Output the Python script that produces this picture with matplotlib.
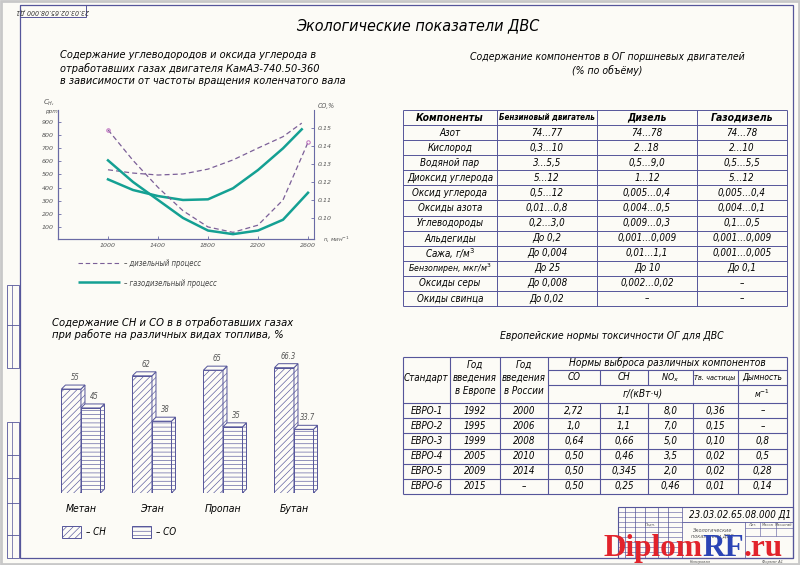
import numpy as np
import matplotlib.pyplot as plt
from matplotlib.patches import Rectangle, Polygon

# engine speed and emissions of KamAZ-740.50-360
rpm_co = [1000, 1200, 1400, 1600, 1800, 2000, 2200, 2400, 2600]
co_diesel = [0.149, 0.132, 0.117, 0.104, 0.095, 0.092, 0.096, 0.110, 0.142]
co_gas = [0.132, 0.120, 0.110, 0.100, 0.093, 0.091, 0.093, 0.099, 0.114]
rpm_ch = [1000, 1200, 1400, 1600, 1800, 2000, 2200, 2400, 2550]
ch_diesel = [535, 510, 495, 503, 540, 610, 700, 787, 890]
ch_gas = [462, 381, 335, 305, 310, 394, 533, 698, 843]

# CH / CO share by fuel, %
fuels = ['Метан', 'Этан', 'Пропан', 'Бутан']
ch_share = [55, 62, 65, 66.3]
co_share = [45, 38, 35, 33.7]

# exhaust composition table
comp_head = ['Компоненты', 'Бензиновый двигатель', 'Дизель', 'Газодизель']
comp_names = ['Азот', 'Кислород', 'Водяной пар', 'Диоксид углерода',
              'Оксид углерода', 'Оксиды азота', 'Углеводороды', 'Альдегиды',
              'Сажа, г/м$^3$', 'Бензопирен, мкг/м$^3$', 'Оксиды серы',
              'Окиды свинца']
comp_petrol = ['74…77', '0,3…10', '3…5,5', '5…12', '0,5…12', '0,01…0,8',
               '0,2…3,0', 'До 0,2', 'До 0,004', 'До 25', 'До 0,008', 'До 0,02']
comp_diesel = ['74…78', '2…18', '0,5…9,0', '1…12', '0,005…0,4', '0,004…0,5',
               '0,009…0,3', '0,001…0,009', '0,01…1,1', 'До 10', '0,002…0,02', '–']
comp_gas = ['74…78', '2…10', '0,5…5,5', '5…12', '0,005…0,4', '0,004…0,1',
            '0,1…0,5', '0,001…0,009', '0,001…0,005', 'До 0,1', '–', '–']

# euro norms table
euro_std = ['ЕВРО-1', 'ЕВРО-2', 'ЕВРО-3', 'ЕВРО-4', 'ЕВРО-5', 'ЕВРО-6']
euro_eu = ['1992', '1995', '1999', '2005', '2009', '2015']
euro_ru = ['2000', '2006', '2008', '2010', '2014', '–']
euro_co = ['2,72', '1,0', '0,64', '0,50', '0,50', '0,50']
euro_ch = ['1,1', '1,1', '0,66', '0,46', '0,345', '0,25']
euro_nox = ['8,0', '7,0', '5,0', '3,5', '2,0', '0,46']
euro_pm = ['0,36', '0,15', '0,10', '0,02', '0,02', '0,01']
euro_smoke = ['–', '–', '0,8', '0,5', '0,28', '0,14']

W, H = 800, 565
LC = '#55559a'      # drawing line colour
FNT = dict(family='DejaVu Sans', style='italic', stretch='condensed')
plt.rcParams['hatch.linewidth'] = 0.45

fig = plt.figure(figsize=(8, 5.65), dpi=100, facecolor='#fcfbf6')
bg = fig.add_axes([0, 0, 1, 1])
bg.set_xlim(0, W)
bg.set_ylim(H, 0)
bg.axis('off')


def line(x0, y0, x1, y1, lw=0.8, c=LC):
    bg.plot([x0, x1], [y0, y1], color=c, lw=lw, solid_capstyle='butt')


def txt(x, y, s, size=7, ha='center', **kw):
    bg.text(x, y, s, fontsize=size, ha=ha, va='center', **FNT, **kw)


def fax(px, py, pw, ph):
    # axes rectangle given in pixel coordinates of the sheet
    return fig.add_axes([px / W, 1 - (py + ph) / H, pw / W, ph / H])


# sheet frame
bg.add_patch(Rectangle((1, 1), W - 2, H - 2, fill=False, ec='#c8c8c8', lw=2))
bg.add_patch(Rectangle((20, 5), 773, 553, fill=False, ec=LC, lw=0.9))
bg.add_patch(Rectangle((20, 5), 66, 12, fill=False, ec=LC, lw=0.7))
txt(53, 11, '23.03.02.65.08.000 Д1', size=5, rotation=180, color='#333')
for cells in ([285, 325, 368], [422, 455, 478, 503, 535, 558]):
    bg.add_patch(Rectangle((7, cells[0]), 12, cells[-1] - cells[0],
                           fill=False, ec=LC, lw=0.6))
    line(12, cells[0], 12, cells[-1], lw=0.5)
    for yy in cells[1:-1]:
        line(7, yy, 19, yy, lw=0.6)

# title
txt(418, 26, 'Экологические показатели ДВС', size=11.5)

# ---------- line chart ----------
txt(60, 55, 'Содержание углеводородов и оксида углерода в', size=7.8, ha='left')
txt(60, 68, 'отработавших газах двигателя КамАЗ-740.50-360', size=7.8, ha='left')
txt(60, 81, 'в зависимости от частоты вращения коленчатого вала', size=7.8, ha='left')

ax = fax(58, 110, 256, 129)
ax.patch.set_alpha(0)
ax2 = ax.twinx()
ax.plot(rpm_ch, ch_diesel, color='#7b5f98', lw=0.9, ls=(0, (4, 2.5)))
ax.plot(rpm_ch, ch_gas, color='#14a093', lw=1.8)
ax2.plot(rpm_co, co_diesel, color='#7b5f98', lw=0.9, ls=(0, (4, 2.5)))
ax2.plot(rpm_co, co_gas, color='#14a093', lw=1.8)
ax2.plot([rpm_co[0], rpm_co[-1]], [co_diesel[0], co_diesel[-1]], 'o',
         ms=2.5, mfc='none', mec='#c070c0', mew=0.7)
ax.set_xlim(600, 2648)
ax.set_ylim(8, 990)
ax2.set_ylim(0.0883, 0.160)
ax.set_xticks([1000, 1400, 1800, 2200, 2600])
ax.set_yticks(range(100, 1000, 100))
ax2.set_yticks([0.10, 0.11, 0.12, 0.13, 0.14, 0.15])
ax2.set_yticklabels(['0.10', '0.11', '0.12', '0.13', '0.14', '0.15'])
for a in (ax, ax2):
    a.spines['top'].set_visible(False)
    for s in a.spines.values():
        s.set_color('#6a6aa5')
        s.set_linewidth(0.8)
    a.tick_params(direction='in', length=2.5, width=0.6, color='#6a6aa5',
                  labelsize=4.5, labelcolor='#555', pad=3)
    for lab in a.get_xticklabels() + a.get_yticklabels():
        lab.set_style('italic')
ax.spines['right'].set_visible(False)
txt(49, 103, '$C_H$,', size=5, color='#555')
txt(51, 112, 'ppm', size=4.5, color='#555')
txt(326, 106, 'CO,%', size=5, color='#555')
txt(336, 240, 'n, мин$^{-1}$', size=4.5, color='#555')

line(78, 263, 120, 263, lw=0.8, c='#7b5f98')
bg.lines[-1].set_linestyle((0, (4, 2.5)))
txt(124, 264, '– дизельный процесс', size=5.5, ha='left', color='#444')
line(78, 282, 120, 282, lw=1.8, c='#14a093')
txt(124, 283, '– газодизельный процесс', size=5.5, ha='left', color='#444')

# ---------- bar chart ----------
txt(52, 322, 'Содержание СН и СО в в отработавших газах', size=8, ha='left')
txt(52, 335, 'при работе на различных видах топлива, %', size=8, ha='left')

bx = fax(40, 343, 300, 150)
bx.axis('off')
bx.set_xlim(-0.577, 3.648)
bx.set_ylim(0, 150 / 1.89)
w = 0.275
dx, dy = 4 / 71, 4 / 1.89
face = '#fdfcf7'
xs = np.arange(len(fuels))
for x0, vals, hatch in ((xs - w, ch_share, '/////'), (xs, co_share, '----')):
    for xl, v in zip(x0, vals):
        bx.bar(xl, v, w, align='edge', color=face, ec=LC, lw=0.7, hatch=hatch)
        bx.add_patch(Polygon([(xl + w, 0), (xl + w + dx, dy),
                              (xl + w + dx, v + dy), (xl + w, v)],
                             fc=face, ec=LC, lw=0.7, hatch=hatch))
        bx.add_patch(Polygon([(xl, v), (xl + w, v), (xl + w + dx, v + dy),
                              (xl + dx, v + dy)], fc=face, ec=LC, lw=0.7))
        bx.text(xl + w / 2 + dx, v + dy + 4, f'{v:g}', fontsize=5.5,
                ha='center', va='center', color='#555', **FNT)
for xc, name in zip(xs, fuels):
    bx.text(xc, -8.5, name, fontsize=7.5, ha='center', va='center', **FNT)

bg.add_patch(Rectangle((62, 526), 19, 12, fc=face, ec=LC, lw=0.7, hatch='/////'))
txt(86, 532, '– СН', size=7, ha='left')
bg.add_patch(Rectangle((132, 526), 19, 12, fc=face, ec=LC, lw=0.7, hatch='----'))
txt(156, 532, '– СО', size=7, ha='left')

# ---------- table 1 ----------
txt(607, 57, 'Содержание компонентов в ОГ поршневых двигателей', size=7.5)
txt(607, 71, '(% по объёму)', size=7.5)
cx = [403, 497, 597, 697, 787]
rh = 15.08
ty = 110
nrow = len(comp_names) + 1
for i in range(nrow + 1):
    line(cx[0], ty + i * rh, cx[-1], ty + i * rh, lw=0.7)
for xx in cx:
    line(xx, ty, xx, ty + nrow * rh, lw=0.7)
for j, h in enumerate(comp_head):
    txt((cx[j] + cx[j + 1]) / 2, ty + rh / 2, h,
        size=5.8 if j == 1 else 7.5, weight='bold')
for i, row in enumerate(zip(comp_names, comp_petrol, comp_diesel, comp_gas)):
    for j, s in enumerate(row):
        txt((cx[j] + cx[j + 1]) / 2, ty + (i + 1.5) * rh, s,
            size=6.3 if i == 9 and j == 0 else 7)

# ---------- table 2 ----------
txt(612, 336, 'Европейские нормы токсичности ОГ для ДВС', size=7.5)
ex = [403, 450, 500, 548, 600, 648, 693, 738, 787]
t0, h1, h2, h3 = 357, 370, 385, 403
erh = 15.17
bot = h3 + 6 * erh
line(ex[0], t0, ex[-1], t0)
line(ex[3], h1, ex[-1], h1)
line(ex[3], h2, ex[-1], h2)
line(ex[0], h3, ex[-1], h3)
for i in range(1, 7):
    line(ex[0], h3 + i * erh, ex[-1], h3 + i * erh)
for xx in ex[:4] + [ex[-1]]:
    line(xx, t0, xx, bot)
line(ex[7], h1, ex[7], bot)
for xx in ex[4:7]:
    line(xx, h1, xx, h2)
    line(xx, h3, xx, bot)
txt(426, 378, 'Стандарт', size=7)
for xc, place in ((475, 'в Европе'), (524, 'в России')):
    txt(xc, 365, 'Год', size=7)
    txt(xc, 378, 'введения', size=7)
    txt(xc, 391, place, size=7)
txt(667, 363, 'Нормы выброса различных компонентов', size=7.3)
for xc, s, sz in ((574, 'СО', 7), (624, 'СН', 7), (670, 'NO$_x$', 6.5),
                  (715, 'Тв. частицы', 5.2), (762, 'Дымность', 6)):
    txt(xc, 377.5, s, size=sz)
txt(643, 394, 'г/(кВт·ч)', size=7.3)
txt(762, 394, 'м$^{-1}$', size=6)
cols = [euro_std, euro_eu, euro_ru, euro_co, euro_ch, euro_nox, euro_pm, euro_smoke]
for j, col in enumerate(cols):
    for i, s in enumerate(col):
        txt((ex[j] + ex[j + 1]) / 2, h3 + (i + 0.5) * erh, s, size=7)

# ---------- title block ----------
bg.add_patch(Rectangle((618, 507), 175, 51, fill=False, ec=LC, lw=0.8))
for xx in (625, 635, 645, 658, 668, 682):
    line(xx, 507, xx, 558, lw=0.5)
for yy in (512, 517, 522, 527, 532, 537, 542, 547, 552):
    line(618, yy, 682, yy, lw=0.4)
line(682, 522, 793, 522, lw=0.6)
line(745, 522, 745, 558, lw=0.5)
line(745, 528, 793, 528, lw=0.4)
line(745, 536, 793, 536, lw=0.4)
for xx in (760, 776):
    line(xx, 522, xx, 536, lw=0.4)
txt(740, 514.5, '23.03.02.65.08.000 Д1', size=7)
txt(712, 530, 'Экологические', size=4, color='#555')
txt(712, 536, 'показатели ДВС', size=4, color='#555')
txt(752, 525, 'Лит.', size=3, color='#555')
txt(768, 525, 'Масса', size=3, color='#555')
txt(784, 525, 'Масштаб', size=3, color='#555')
txt(650, 525, 'Подп.', size=3, color='#555')
txt(700, 561.5, 'Копировал', size=3, color='#555')
txt(772, 561.5, 'Формат А1', size=3, color='#555')

# watermark
wm = dict(fontsize=22.5, family='Liberation Serif', weight='bold', va='baseline')
xpos = 603
fig.canvas.draw()
inv = bg.transData.inverted()
for part, col in (('Diplom', '#e2232b'), ('RF', '#2b44b5'), ('.ru', '#e2232b')):
    t = bg.text(xpos, 556, part, color=col, **wm)
    bb = t.get_window_extent(fig.canvas.get_renderer())
    xpos = inv.transform((bb.x1, bb.y0))[0]

fig.savefig('out.png', dpi=100, facecolor=fig.get_facecolor())
